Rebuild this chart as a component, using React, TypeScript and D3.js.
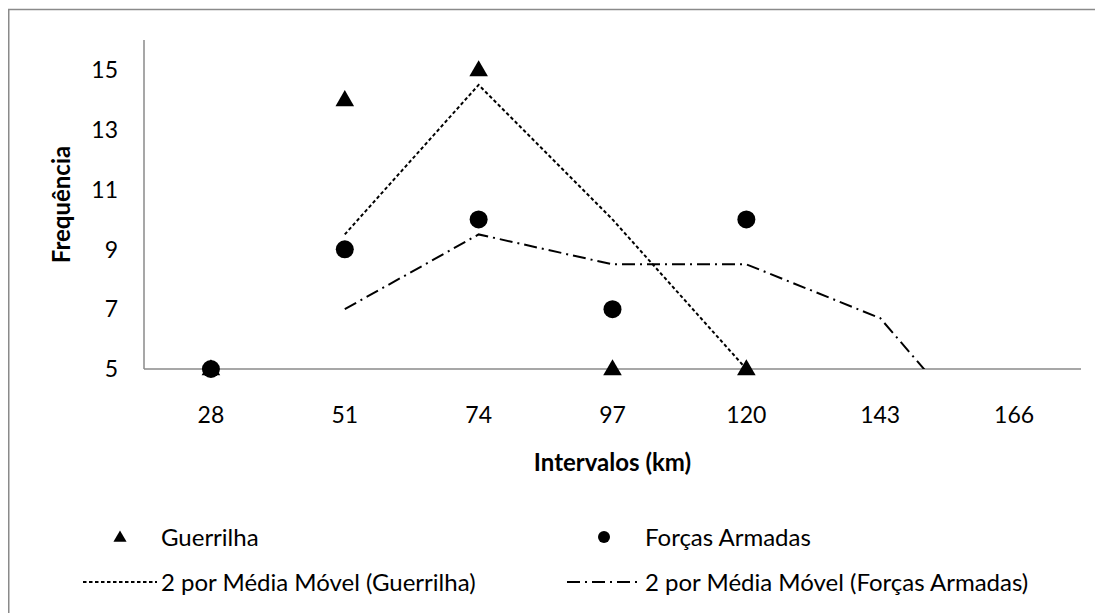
import * as d3 from 'd3';
import { useEffect, useRef } from 'react';

const WIDTH = 1095;
const HEIGHT = 605;

// Intervalos (km) - eixo de categorias
const intervals = ['28', '51', '74', '97', '120', '143', '166'];
const guerrilha = [5, 14, 15, 5, 5];
const forcasArmadas = [5, 9, 10, 7, 10];
// 2 por Média Móvel (valores abaixo de 5 ficam cortados)
const mediaGuerrilha = [null, 9.5, 14.5, 10, 5];
const mediaForcas = [null, 7, 9.5, 8.5, 8.5, 6.7, 1.5];
const yTicks = [5, 7, 9, 11, 13, 15];
const yDomain = [5, 16];

const FONT = 'Lato, Calibri, "Open Sans", sans-serif';
const AXIS_GRAY = '#8a8a8a';
const DOT_DASH = '3.5,2.5';
const DASH_DOT = '13,5,2,5';

const App = () => {
    const svgRef = useRef<SVGSVGElement | null>(null);

    useEffect(() => {
        if (!svgRef.current) return;
        const svg = d3.select(svgRef.current);
        svg.selectAll('*').remove();

        const plot = { left: 136, right: 1073, top: 32, bottom: 361 };

        const xScale = d3.scalePoint<string>().domain(intervals).range([plot.left, plot.right]).padding(0.5);
        const yScale = d3.scaleLinear().domain(yDomain).range([plot.bottom, plot.top]);

        // outer chart border (cut by the picture edge on the right and bottom)
        svg.append('rect')
            .attr('x', 0.75)
            .attr('y', 1.5)
            .attr('width', WIDTH + 40)
            .attr('height', HEIGHT + 40)
            .attr('fill', 'white')
            .attr('stroke', AXIS_GRAY)
            .attr('stroke-width', 1.5);

        svg.append('clipPath')
            .attr('id', 'plot-clip')
            .append('rect')
            .attr('x', plot.left)
            .attr('y', plot.top)
            .attr('width', plot.right - plot.left)
            .attr('height', plot.bottom - plot.top);

        // axes (no tick marks)
        svg.append('line')
            .attr('x1', plot.left)
            .attr('x2', plot.left)
            .attr('y1', plot.top)
            .attr('y2', plot.bottom)
            .attr('stroke', AXIS_GRAY)
            .attr('stroke-width', 1.5);
        svg.append('line')
            .attr('x1', plot.left)
            .attr('x2', plot.right)
            .attr('y1', plot.bottom)
            .attr('y2', plot.bottom)
            .attr('stroke', AXIS_GRAY)
            .attr('stroke-width', 1.5);

        svg.append('g')
            .selectAll('text')
            .data(yTicks)
            .join('text')
            .attr('x', 110)
            .attr('y', (d) => yScale(d))
            .attr('dy', '0.36em')
            .attr('text-anchor', 'end')
            .style('font-family', FONT)
            .style('font-size', '23px')
            .text((d) => d);

        svg.append('g')
            .selectAll('text')
            .data(intervals)
            .join('text')
            .attr('x', (d) => xScale(d)!)
            .attr('y', 407)
            .attr('dy', '0.36em')
            .attr('text-anchor', 'middle')
            .style('font-family', FONT)
            .style('font-size', '23px')
            .text((d) => d);

        svg.append('text')
            .attr('x', (plot.left + plot.right) / 2)
            .attr('y', 454)
            .attr('dy', '0.36em')
            .attr('text-anchor', 'middle')
            .style('font-family', FONT)
            .style('font-size', '24px')
            .style('font-weight', 'bold')
            .text('Intervalos (km)');

        svg.append('text')
            .attr('transform', `translate(53, ${(plot.top + plot.bottom) / 2}) rotate(-90)`)
            .attr('dy', '0.36em')
            .attr('text-anchor', 'middle')
            .style('font-family', FONT)
            .style('font-size', '24px')
            .style('font-weight', 'bold')
            .text('Frequência');

        // moving average lines, clipped to the plot area
        const lineGen = d3
            .line<number | null>()
            .defined((d) => d !== null)
            .x((_, i) => xScale(intervals[i])!)
            .y((d) => yScale(d as number));

        const lines = svg.append('g').attr('clip-path', 'url(#plot-clip)');
        lines.append('path')
            .attr('d', lineGen(mediaGuerrilha))
            .attr('fill', 'none')
            .attr('stroke', '#000')
            .attr('stroke-width', 2)
            .attr('stroke-dasharray', DOT_DASH);
        lines.append('path')
            .attr('d', lineGen(mediaForcas))
            .attr('fill', 'none')
            .attr('stroke', '#000')
            .attr('stroke-width', 2)
            .attr('stroke-dasharray', DASH_DOT);

        const triangle = d3.symbol().type(d3.symbolTriangle).size(150);
        const inDomain = (v: number) => v >= yDomain[0] && v <= yDomain[1];

        svg.append('g')
            .selectAll('path')
            .data(guerrilha.map((v, i) => ({ v, i })).filter((d) => inDomain(d.v)))
            .join('path')
            .attr('d', triangle)
            .attr('transform', (d) => `translate(${xScale(intervals[d.i])}, ${yScale(d.v) + 1})`)
            .attr('fill', '#000');

        svg.append('g')
            .selectAll('circle')
            .data(forcasArmadas.map((v, i) => ({ v, i })).filter((d) => inDomain(d.v)))
            .join('circle')
            .attr('cx', (d) => xScale(intervals[d.i])!)
            .attr('cy', (d) => yScale(d.v))
            .attr('r', 9)
            .attr('fill', '#000');

        // legend: two columns, key area then text
        const legend = svg.append('g').style('font-family', FONT).style('font-size', '24px');
        const row1 = 529;
        const row2 = 574;
        const keyWidth = 74;
        const cols = [{ key: 75 }, { key: 559 }];

        legend.append('path')
            .attr('d', d3.symbol().type(d3.symbolTriangle).size(75)())
            .attr('transform', `translate(${cols[0].key + keyWidth / 2}, ${row1 + 1})`)
            .attr('fill', '#000');
        legend.append('circle')
            .attr('cx', cols[1].key + keyWidth / 2)
            .attr('cy', row1)
            .attr('r', 6)
            .attr('fill', '#000');

        [
            { col: cols[0], dash: DOT_DASH },
            { col: cols[1], dash: DASH_DOT },
        ].forEach(({ col, dash }) => {
            legend.append('line')
                .attr('x1', col.key)
                .attr('x2', col.key + keyWidth)
                .attr('y1', row2)
                .attr('y2', row2)
                .attr('stroke', '#000')
                .attr('stroke-width', 2)
                .attr('stroke-dasharray', dash);
        });

        const labels = [
            { col: 0, y: row1, t: 'Guerrilha' },
            { col: 1, y: row1, t: 'Forças Armadas' },
            { col: 0, y: row2, t: '2 por Média Móvel (Guerrilha)' },
            { col: 1, y: row2, t: '2 por Média Móvel (Forças Armadas)' },
        ];
        legend.selectAll('text.lbl')
            .data(labels)
            .join('text')
            .attr('class', 'lbl')
            .attr('x', (d) => cols[d.col].key + keyWidth + 4)
            .attr('y', (d) => d.y)
            .attr('dy', '0.36em')
            .text((d) => d.t);
    }, []);

    return (
        <svg
            ref={svgRef}
            width={WIDTH}
            height={HEIGHT}
            style={{ display: 'block', overflow: 'hidden', background: 'white' }}
        ></svg>
    );
};

export default App;
